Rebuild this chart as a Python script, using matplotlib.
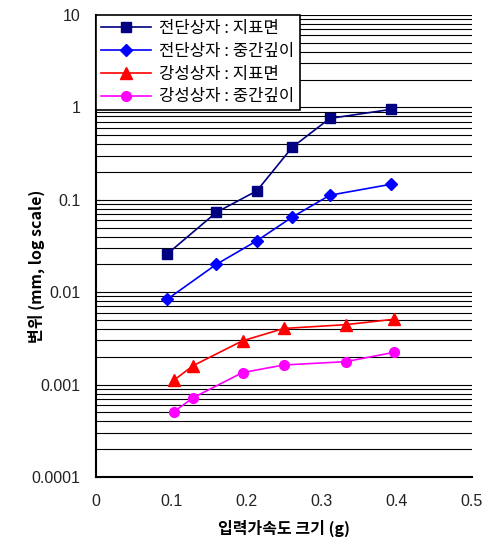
import matplotlib
matplotlib.use("Agg")
import matplotlib.pyplot as plt
from matplotlib.ticker import LogLocator, FixedLocator, NullFormatter

plt.rcParams['font.family'] = ['Noto Sans CJK KR', 'DejaVu Sans']

# 전단상자 (shear box)
x_shear = [0.095, 0.160, 0.214, 0.261, 0.311, 0.392]
y_shear_surf = [0.026, 0.073, 0.125, 0.37, 0.76, 0.95]
y_shear_mid = [0.0084, 0.020, 0.036, 0.065, 0.112, 0.147]

# 강성상자 (rigid box)
x_rigid = [0.104, 0.129, 0.195, 0.250, 0.332, 0.397]
y_rigid_surf = [0.00112, 0.00160, 0.00298, 0.00405, 0.00445, 0.0051]
y_rigid_mid = [0.00051, 0.00072, 0.00135, 0.00163, 0.00177, 0.00224]

labels = ["전단상자 : 지표면", "전단상자 : 중간깊이", "강성상자 : 지표면", "강성상자 : 중간깊이"]
x_ticks = [0, 0.1, 0.2, 0.3, 0.4, 0.5]
y_ticks = [0.0001, 0.001, 0.01, 0.1, 1, 10]
y_ticklabels = ["0.0001", "0.001", "0.01", "0.1", "1", "10"]

fig = plt.figure(figsize=(4.86, 5.45), dpi=100)
ax = fig.add_axes([0.1975, 0.1248, 0.7735, 0.8477])

ax.set_yscale('log')
ax.set_xlim(0, 0.5)
ax.set_ylim(0.0001, 10)

# horizontal grid at every major and minor log tick
ax.yaxis.set_major_locator(FixedLocator(y_ticks))
ax.yaxis.set_minor_locator(LogLocator(base=10, subs=range(2, 10)))
ax.yaxis.set_minor_formatter(NullFormatter())
ax.set_yticklabels(y_ticklabels)
ax.grid(True, axis='y', which='both', color='black', linewidth=0.8)
ax.set_axisbelow(True)

ax.plot(x_shear, y_shear_surf, color='#000080', marker='s', markersize=7, linewidth=1.2, label=labels[0])
ax.plot(x_shear, y_shear_mid, color='#0000FF', marker='D', markersize=6, linewidth=1.2, label=labels[1])
ax.plot(x_rigid, y_rigid_surf, color='#FF0000', marker='^', markersize=8, linewidth=1.2, label=labels[2])
ax.plot(x_rigid, y_rigid_mid, color='#FF00FF', marker='o', markersize=7, linewidth=1.2, label=labels[3])

ax.set_xticks(x_ticks)
ax.set_xticklabels(["0", "0.1", "0.2", "0.3", "0.4", "0.5"])
for t in ax.get_xticklabels() + ax.get_yticklabels():
    t.set_fontfamily('Liberation Sans')
    t.set_color('#222222')
ax.tick_params(axis='both', which='major', labelsize=11.5)
ax.tick_params(axis='x', length=0, pad=12)
ax.tick_params(axis='y', which='both', direction='in', length=3, pad=11)

for s in ['top', 'right']:
    ax.spines[s].set_visible(False)
ax.spines['left'].set_linewidth(1.5)
ax.spines['bottom'].set_linewidth(1.5)

ax.set_xlabel("입력가속도 크기 (g)", fontsize=11.5, fontweight='bold')
ax.set_ylabel("변위 (mm, log scale)", fontsize=11.5, fontweight='bold')
ax.xaxis.set_label_coords(0.5, -0.092)
ax.yaxis.set_label_coords(-0.136, 0.455)

leg = ax.legend(loc='upper left', bbox_to_anchor=(0, 1.0), fontsize=12, frameon=True,
                fancybox=False, edgecolor='black', framealpha=1, handlelength=3,
                borderaxespad=0, labelspacing=0.35, borderpad=0.3, handletextpad=0.5)
leg.get_frame().set_linewidth(1.2)

fig.savefig("out.png", dpi=100)
